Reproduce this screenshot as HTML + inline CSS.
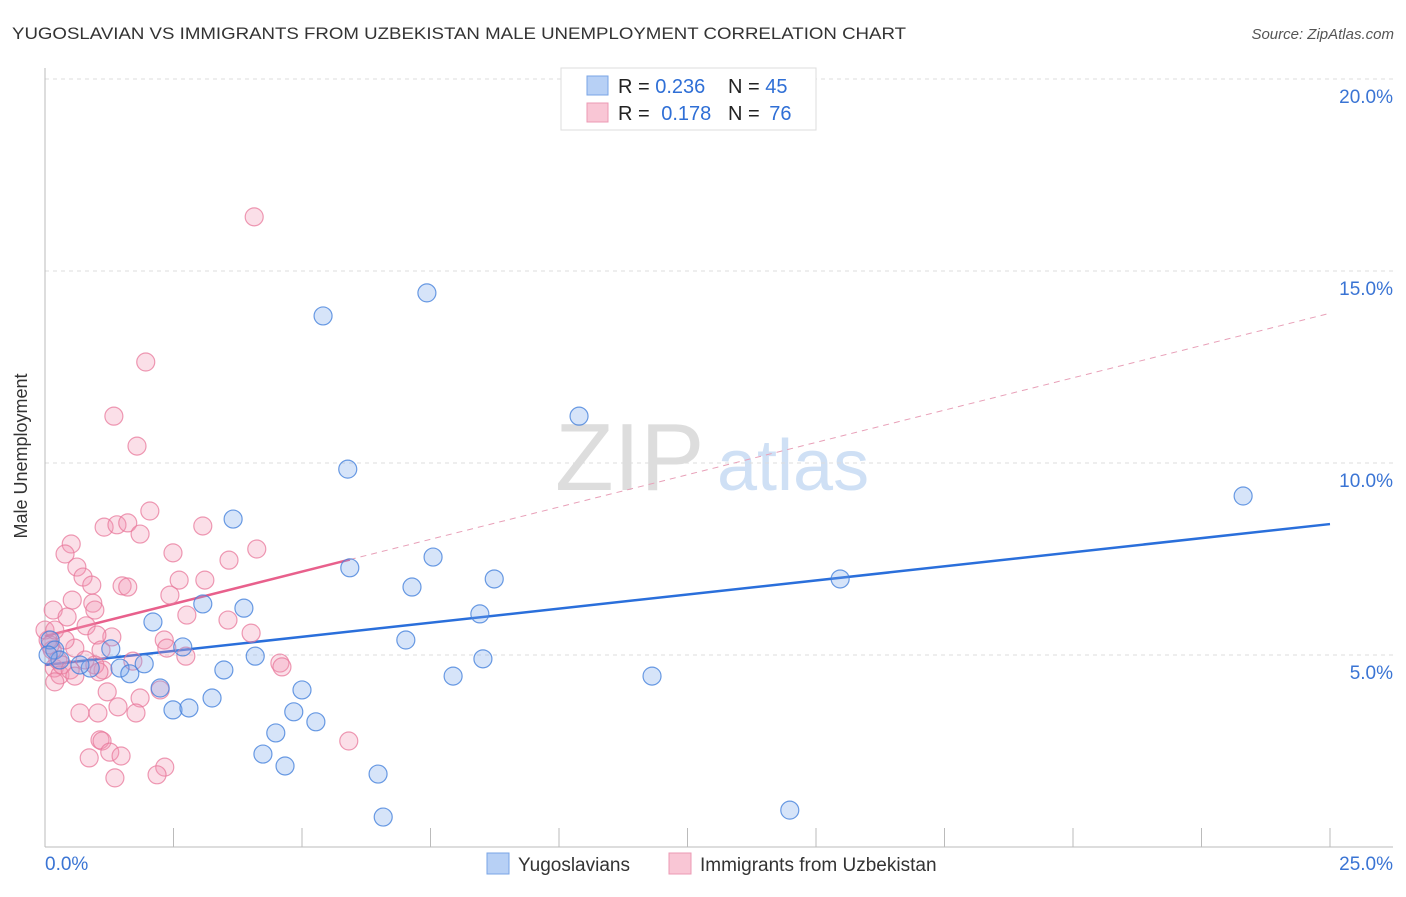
<!DOCTYPE html>
<html><head><meta charset="utf-8"><style>
body{margin:0;background:#fff;font-family:"Liberation Sans",sans-serif;}
svg text{font-family:"Liberation Sans",sans-serif;}
</style></head><body>
<svg id="chart" width="1406" height="892" viewBox="0 0 1406 892">
<text x="12" y="39" font-size="17" fill="#333" textLength="894" lengthAdjust="spacingAndGlyphs">YUGOSLAVIAN VS IMMIGRANTS FROM UZBEKISTAN MALE UNEMPLOYMENT CORRELATION CHART</text>
<text x="1394" y="39" font-size="15" fill="#555" font-style="italic" text-anchor="end">Source: ZipAtlas.com</text>
<g>
<text x="555" y="490" font-size="96" fill="#ddd" font-family="Liberation Serif, serif">ZIP</text>
<text x="717" y="490" font-size="72" fill="#cfe0f5">atlas</text>
</g>
<g id="grid"></g>
<g id="axes"></g>
<g id="lines"></g>
<g id="pts"></g>
<text x="27" y="456" font-size="18" fill="#333" transform="rotate(-90 27 456)" text-anchor="middle">Male Unemployment</text>
<g>
<rect x="561" y="68" width="255" height="62" fill="#fff" stroke="#ddd"/>
<rect x="587" y="76" width="21" height="19" fill="#b7d0f5" stroke="#7aa5e6"/>
<rect x="587" y="103" width="21" height="19" fill="#f9c6d5" stroke="#ec9ab4"/>
<text x="618" y="93" font-size="20" fill="#222">R = <tspan fill="#2f6fd6">0.236</tspan></text>
<text x="728" y="93" font-size="20" fill="#222">N = <tspan fill="#2f6fd6">45</tspan></text>
<text x="618" y="120" font-size="20" fill="#222">R = <tspan fill="#2f6fd6" dx="6">0.178</tspan></text>
<text x="728" y="120" font-size="20" fill="#222">N = <tspan fill="#2f6fd6" dx="4">76</tspan></text>
</g>
<g>
<rect x="487" y="853" width="22" height="21" fill="#b7d0f5" stroke="#7aa5e6"/>
<text x="518" y="871" font-size="19" fill="#333">Yugoslavians</text>
<rect x="669" y="853" width="22" height="21" fill="#f9c6d5" stroke="#ec9ab4"/>
<text x="700" y="871" font-size="19" fill="#333">Immigrants from Uzbekistan</text>
</g>
</svg>
<script>
const yTicks=[5,10,15,20];
const yTickLabels=["5.0%","10.0%","15.0%","20.0%"];
const xTickLabels=["0.0%","25.0%"];
const blueX=[7.43,5.41,10.39,5.89,23.31,3.66,7.55,5.93,8.74,7.14,15.47,3.07,3.87,8.46,2.10,7.02,1.28,2.68,4.09,8.52,1.93,1.46,1.65,3.48,7.94,11.81,2.24,5.00,3.25,2.49,2.80,4.84,5.27,4.49,4.24,4.67,6.48,6.58,14.49,0.10,0.19,0.29,0.88,0.68,0.06];
const blueY=[14.43,13.83,11.22,9.84,9.14,8.54,7.55,7.27,6.98,6.77,6.98,6.33,6.22,6.07,5.86,5.39,5.16,5.21,4.97,4.90,4.77,4.66,4.51,4.61,4.45,4.45,4.14,4.09,3.88,3.57,3.62,3.52,3.26,2.97,2.42,2.11,1.90,0.78,0.96,5.39,5.13,4.87,4.66,4.74,5.00];
const pinkX=[4.07,1.96,1.34,1.79,2.04,1.15,1.40,1.61,3.07,1.85,0.51,0.39,2.49,4.12,3.58,0.62,0.74,0.91,2.61,3.11,1.50,1.61,2.43,0.53,0.93,0.16,0.43,2.76,4.01,0.80,1.30,1.01,2.32,2.37,2.74,0.58,1.09,1.71,4.57,4.61,2.24,1.21,1.85,1.42,0.68,1.03,1.77,2.33,2.18,1.07,1.11,0.86,1.26,1.48,1.36,5.91,0.18,0.29,0.19,0.06,0.14,0.25,0.33,0.49,0.58,1.13,0.97,0.39,0,0.10,0.78,1.05,3.56,0.97,0.19];
const pinkY=[16.41,12.63,11.22,10.44,8.75,8.33,8.39,8.44,8.36,8.15,7.89,7.63,7.66,7.76,7.47,7.29,7.03,6.82,6.95,6.95,6.80,6.77,6.56,6.43,6.35,6.17,5.99,6.04,5.57,5.76,5.47,5.52,5.39,5.18,4.97,5.18,5.13,4.84,4.79,4.69,4.09,4.04,3.88,3.65,3.49,3.49,3.49,2.08,1.88,2.79,2.76,2.32,2.47,2.37,1.80,2.76,4.66,4.48,4.30,5.39,5.13,4.87,4.74,4.61,4.45,4.61,4.74,5.39,5.65,5.26,4.87,4.56,5.91,6.17,5.65];
const blueTrend=[4.74,8.41];
const pinkTrend=[5.49,13.9];
const pinkSolidEnd=5.93;
const NS='http://www.w3.org/2000/svg';
const X=v=>45+v*51.4, Y=v=>847-v*38.4;
function mk(tag,attrs,parent){const e=document.createElementNS(NS,tag);for(const k in attrs)e.setAttribute(k,attrs[k]);document.getElementById(parent).appendChild(e);return e;}
yTicks.forEach((t,i)=>{
 const g=mk('line',{x1:45,x2:1393,y1:Y(t),y2:Y(t),stroke:'#ddd','stroke-dasharray':'4,4'},'grid');
 
 
 const l=mk('text',{x:1393,y:Y(t)+24,'font-size':19,fill:'#3a74d4','text-anchor':'end'},'axes');
 l.textContent=yTickLabels[i];
 
 
});
const ax=mk('line',{x1:45,x2:1393,y1:847,y2:847,stroke:'#bbb'},'axes');


const ay=mk('line',{x1:45,x2:45,y1:68,y2:847,stroke:'#bbb'},'axes');


for(let i=1;i<=10;i++){
 const t=mk('line',{x1:X(i*2.5),x2:X(i*2.5),y1:828,y2:847,stroke:'#bbb'},'axes');
 
 
}
[[0,'start'],[25,'end']].forEach((p,i)=>{
 const t=mk('text',{x:i?1393:45,y:870,'font-size':19,fill:'#3a74d4','text-anchor':p[1]},'axes');
 t.textContent=xTickLabels[i];
 
 
});
pinkX.forEach((x,i)=>{
 const c=mk('circle',{cx:X(x),cy:Y(pinkY[i]),r:9,fill:'rgba(242,150,180,0.3)',stroke:'rgba(232,120,155,0.75)','stroke-width':1.2},'pts');
 
 
});
blueX.forEach((x,i)=>{
 const c=mk('circle',{cx:X(x),cy:Y(blueY[i]),r:9,fill:'rgba(120,165,235,0.3)',stroke:'rgba(70,130,220,0.8)','stroke-width':1.2},'pts');
 
 
});
const pv=x=>pinkTrend[0]+(pinkTrend[1]-pinkTrend[0])*x/25;
const pd=mk('line',{x1:X(pinkSolidEnd),y1:Y(pv(pinkSolidEnd)),x2:X(25),y2:Y(pinkTrend[1]),stroke:'#e8a0b8','stroke-dasharray':'6,5','stroke-width':1},'lines');


const ps=mk('line',{x1:X(0),y1:Y(pinkTrend[0]),x2:X(pinkSolidEnd),y2:Y(pv(pinkSolidEnd)),stroke:'#e8608c','stroke-width':2.5},'lines');


const bl=mk('line',{x1:X(0),y1:Y(blueTrend[0]),x2:X(25),y2:Y(blueTrend[1]),stroke:'#2a6fdb','stroke-width':2.5},'lines');


</script>
</body></html>
